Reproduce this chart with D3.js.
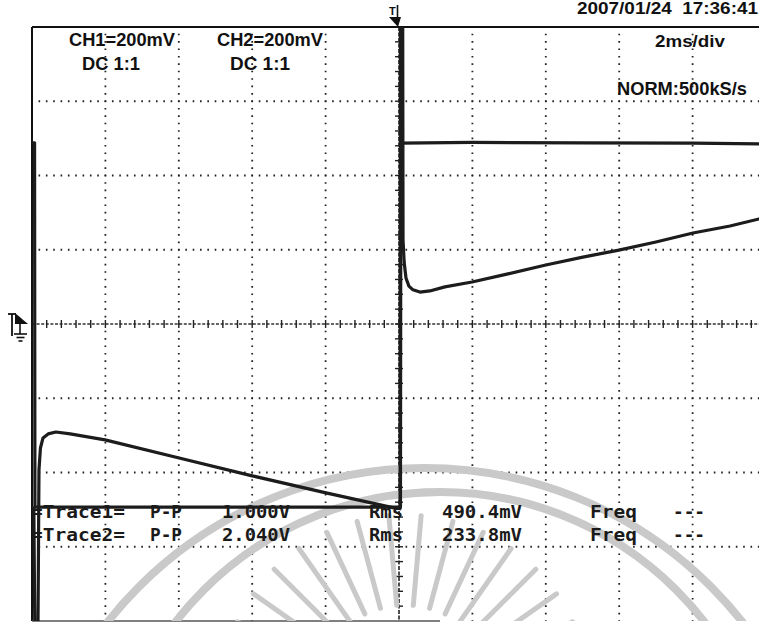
<!DOCTYPE html>
<html><head><meta charset="utf-8">
<script src="https://cdn.jsdelivr.net/npm/d3@7"></script>
<style>body{margin:0;background:#fff}svg{display:block}</style>
</head><body>
<svg id="c" width="759" height="622"></svg>
<script>
// ---- data (time in ms, voltage in mV) ----
const gridTimes = [-8, -6, -4, -2, 2, 4, 6, 8];
const gridVolts = [-600, -400, -200, 200, 400, 600];
const ch1Time = [-10, -9.93, -9.92, 0.04, 0.05, 2, 5, 8, 9.81, 10];
const ch1mV   = [488, 488, -493, -493, 487, 489, 488, 487, 485, 485];
const ch2Time = [-10, -9.95, -9.92, -9.84, -9.81, -9.77, -9.70, -9.56, -9.35, -8.96, -8.01, -5.99, -4.0, -1.99, -0.11, 0.03,
                 0.04, 0.10, 0.11, 0.14, 0.19, 0.27, 0.38, 0.57, 0.84, 1.25, 1.99, 2.97, 4.0, 5.01, 5.99, 7.0, 8.01, 9.02, 9.81, 10];
const ch2mV   = [-496, -496, -860, -860, -393, -334, -307, -296, -291, -296, -312, -361, -409, -455, -496, -496,
                 860, 860, 226, 167, 124, 102, 92, 86, 89, 100, 113, 135, 159, 180, 199, 221, 245, 264, 283, 288];
const headerTexts = ["CH1=200mV", "DC 1:1", "CH2=200mV", "DC 1:1", "2007/01/24  17:36:41", "2ms/div", "NORM:500kS/s"];
const row1Texts = ["=Trace1=", "P-P", "1.000V", "Rms", "490.4mV", "Freq", "---"];
const row2Texts = ["=Trace2=", "P-P", "2.040V", "Rms", "233.8mV", "Freq", "---"];

// ---- layout ----
const X0 = 32, X1 = 766, Y0 = 27, Y1 = 621, W = 759;
const svg = d3.select("#c");
const x = d3.scaleLinear().domain([-10, 10]).range([X0, X1]);
const y = d3.scaleLinear().domain([-800, 800]).range([Y1, Y0]);

svg.append("defs").append("clipPath").attr("id", "plot")
  .append("rect").attr("x", X0).attr("y", Y0).attr("width", W - X0).attr("height", Y1 - Y0);

// grid (dotted)
const grid = svg.append("g");
grid.selectAll("line.v").data(gridTimes).join("line").attr("class", "v")
  .attr("x1", d => x(d)).attr("x2", d => x(d)).attr("y1", Y0).attr("y2", Y1)
  .attr("stroke", "#222").attr("stroke-width", 1.8)
  .attr("stroke-dasharray", "1.6 5.825").attr("stroke-dashoffset", 0.8);
grid.selectAll("line.h").data(gridVolts).join("line").attr("class", "h")
  .attr("x1", X0).attr("x2", W).attr("y1", d => y(d)).attr("y2", d => y(d))
  .attr("stroke", "#222").attr("stroke-width", 1.8)
  .attr("stroke-dasharray", "1.6 5.74").attr("stroke-dashoffset", 0.8);

// center axes with minor ticks
grid.append("line").attr("x1", X0).attr("x2", W).attr("y1", y(0)).attr("y2", y(0))
  .attr("stroke", "#333").attr("stroke-width", 1.4).attr("stroke-dasharray", "3 1.6");
grid.selectAll("line.tx").data(d3.range(-9.6, 10, 0.4)).join("line").attr("class", "tx")
  .attr("x1", d => x(d)).attr("x2", d => x(d)).attr("y1", y(0) - 4).attr("y2", y(0) + 4)
  .attr("stroke", "#222").attr("stroke-width", 1.4);
grid.append("line").attr("x1", x(0)).attr("x2", x(0)).attr("y1", Y0).attr("y2", Y1)
  .attr("stroke", "#222").attr("stroke-width", 1.6).attr("stroke-dasharray", "4 1.5");
grid.selectAll("line.ty").data(d3.range(-760, 800, 40)).join("line").attr("class", "ty")
  .attr("x1", x(0) - 4).attr("x2", x(0) + 4).attr("y1", d => y(d)).attr("y2", d => y(d))
  .attr("stroke", "#222").attr("stroke-width", 1.4);

// frame
svg.append("line").attr("x1", X0).attr("x2", W).attr("y1", Y0).attr("y2", Y0).attr("stroke", "#111").attr("stroke-width", 2);
svg.append("line").attr("x1", X0).attr("x2", X0).attr("y1", Y0).attr("y2", Y1).attr("stroke", "#111").attr("stroke-width", 2);
svg.append("line").attr("x1", X0).attr("x2", 440).attr("y1", Y1).attr("y2", Y1).attr("stroke", "#555").attr("stroke-width", 1.5);

// watermark (light grey emblem)
const wm = svg.append("g").attr("clip-path", "url(#plot)").attr("fill", "none").attr("stroke", "#c9c9c9");
wm.append("circle").attr("cx", 425).attr("cy", 872).attr("r", 404).attr("stroke-width", 8);
wm.append("circle").attr("cx", 440).attr("cy", 826).attr("r", 334).attr("stroke-width", 8);
d3.range(-165, -14, 10).forEach(a => {
  const r = a * Math.PI / 180, cx = 405, cy = 700;
  wm.append("line")
    .attr("x1", cx + 95 * Math.cos(r)).attr("y1", cy + 95 * Math.sin(r))
    .attr("x2", cx + 185 * Math.cos(r)).attr("y2", cy + 185 * Math.sin(r))
    .attr("stroke-width", 5).attr("stroke-linecap", "round");
});

// traces
const line = d3.line().x(d => x(d[0])).y(d => y(d[1]));
const tr = svg.append("g").attr("clip-path", "url(#plot)").attr("fill", "none")
  .attr("stroke-linejoin", "round").attr("stroke-linecap", "round");
tr.append("path").datum(d3.zip(ch1Time, ch1mV)).attr("d", line).attr("stroke", "#1c1c1c").attr("stroke-width", 3.2);
tr.append("path").datum(d3.zip(ch2Time, ch2mV)).attr("d", line).attr("stroke", "#1c1c1c").attr("stroke-width", 3.2);

// header texts
const sans = "'Liberation Sans', Arial, sans-serif";
const hdr = [
  [69, 46, 106, 18], [82, 70, 58, 18], [217, 46, 106, 18], [230, 70, 60, 18],
  [577, 14, 181, 16], [655, 47, 70, 17], [617, 95, 130, 18]
];
svg.append("g").selectAll("text").data(headerTexts).join("text")
  .attr("x", (d, i) => hdr[i][0]).attr("y", (d, i) => hdr[i][1])
  .attr("textLength", (d, i) => hdr[i][2]).attr("lengthAdjust", "spacingAndGlyphs")
  .attr("font-size", (d, i) => hdr[i][3]).attr("font-family", sans).attr("font-weight", "bold")
  .attr("fill", "#111").style("white-space", "pre").text(d => d);

// measurement rows
const mono = "'DejaVu Sans Mono', 'Liberation Mono', monospace";
const cols = [[31, 94], [150, 32], [222, 68], [369, 34], [442, 80], [590, 47], [673, 32]];
[[row1Texts, 518], [row2Texts, 541]].forEach(([txts, by]) => {
  svg.append("g").selectAll("text").data(txts).join("text")
    .attr("x", (d, i) => cols[i][0]).attr("y", by)
    .attr("textLength", (d, i) => cols[i][1]).attr("lengthAdjust", "spacingAndGlyphs")
    .attr("font-size", 17.5).attr("font-family", mono).attr("font-weight", "bold")
    .attr("fill", "#1a1a1a").text(d => d);
});

// trigger position marker (top)
const tm = svg.append("g").attr("fill", "#111").attr("stroke", "#111");
tm.append("text").attr("x", 389).attr("y", 15).attr("font-size", 11).attr("font-family", sans)
  .attr("font-weight", "bold").attr("stroke", "none").text("T");
tm.append("line").attr("x1", 397.5).attr("x2", 397.5).attr("y1", 5).attr("y2", 24).attr("stroke-width", 1.6);
tm.append("path").attr("d", "M389,17 L401,17 L398,27 Z").attr("stroke", "none");

// level / ground marker (left)
const lm = svg.append("g").attr("stroke", "#111").attr("fill", "#111");
lm.append("line").attr("x1", 8).attr("x2", 16).attr("y1", 314).attr("y2", 314).attr("stroke-width", 1.8);
lm.append("line").attr("x1", 12).attr("x2", 12).attr("y1", 314).attr("y2", 336).attr("stroke-width", 1.8);
lm.append("path").attr("d", "M15,313 L28,324 L15,324 Z").attr("stroke", "none");
lm.append("line").attr("x1", 20).attr("x2", 20).attr("y1", 324).attr("y2", 334).attr("stroke-width", 1.6);
lm.append("line").attr("x1", 14).attr("x2", 27).attr("y1", 334).attr("y2", 334).attr("stroke-width", 1.6);
lm.append("line").attr("x1", 16.5).attr("x2", 24.5).attr("y1", 337.5).attr("y2", 337.5).attr("stroke-width", 1.6);
lm.append("line").attr("x1", 18.5).attr("x2", 22.5).attr("y1", 341).attr("y2", 341).attr("stroke-width", 1.6);
</script>
</body></html>
